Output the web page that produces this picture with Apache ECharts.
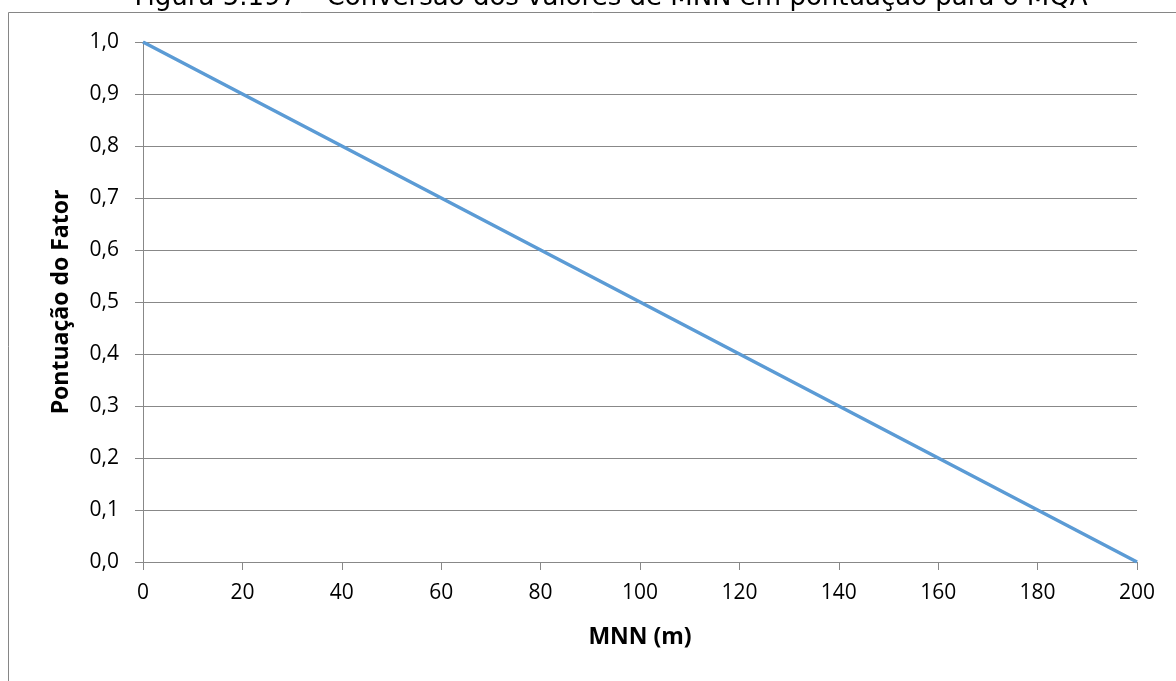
<!DOCTYPE html>
<html>
<head>
<meta charset="utf-8">
<script src="https://cdn.jsdelivr.net/npm/echarts@6/dist/echarts.min.js"></script>
<style>
html,body{margin:0;padding:0;background:#fff;}
#c{width:1176px;height:681px;}
</style>
</head>
<body>
<div id="c"></div>
<script>
const titleText = 'Figura 5.197 – Conversão dos valores de MNN em pontuação para o MQA';
const xName = 'MNN (m)';
const yName = 'Pontuação do Fator';
const mnnValues = [0, 20, 40, 60, 80, 100, 120, 140, 160, 180, 200];
const scoreValues = [1.0, 0.9, 0.8, 0.7, 0.6, 0.5, 0.4, 0.3, 0.2, 0.1, 0.0];

const chart = echarts.init(document.getElementById('c'));
const gridColor = '#888888';
const font = 'Open Sans, Liberation Sans, sans-serif';
chart.setOption({
  animation: false,
  backgroundColor: '#ffffff',
  graphic: [
    { type: 'text', x: 611, y: 11, style: { text: titleText, fontFamily: 'DejaVu Sans', fontSize: 26, fill: '#000', textAlign: 'center', textVerticalAlign: 'bottom' } },
    { type: 'line', shape: { x1: 8.5, y1: 12.5, x2: 1176, y2: 12.5 }, style: { stroke: '#868686', lineWidth: 1 } },
    { type: 'line', shape: { x1: 8.5, y1: 12.5, x2: 8.5, y2: 681 }, style: { stroke: '#868686', lineWidth: 1 } }
  ],
  grid: { left: 143, right: 39, top: 42, bottom: 119 },
  xAxis: {
    type: 'value', min: 0, max: 200, interval: 20,
    name: xName, nameLocation: 'middle', nameGap: 64,
    nameTextStyle: { fontFamily: font, fontSize: 23, fontWeight: 'bold', color: '#000' },
    axisLine: { show: true, lineStyle: { color: gridColor, width: 1 } },
    axisTick: { show: true, length: 8, lineStyle: { color: gridColor } },
    axisLabel: { margin: 21, fontFamily: font, fontSize: 21, color: '#000' },
    splitLine: { show: false }
  },
  yAxis: {
    type: 'value', min: 0, max: 1, interval: 0.1,
    name: yName, nameLocation: 'middle', nameGap: 70, nameRotate: 90,
    nameTextStyle: { fontFamily: font, fontSize: 23, fontWeight: 'bold', color: '#000' },
    axisLine: { show: true, lineStyle: { color: gridColor, width: 1 } },
    axisTick: { show: true, length: 8, lineStyle: { color: gridColor } },
    axisLabel: { margin: 24, fontFamily: font, fontSize: 21, color: '#000', formatter: v => v.toFixed(1).replace('.', ',') },
    splitLine: { show: true, lineStyle: { color: gridColor, width: 1 } }
  },
  series: [{
    type: 'line',
    data: mnnValues.map((x, i) => [x, scoreValues[i]]),
    showSymbol: false,
    lineStyle: { color: '#5B9BD5', width: 3.5 },
    itemStyle: { color: '#5B9BD5' }
  }]
});
</script>
</body>
</html>
